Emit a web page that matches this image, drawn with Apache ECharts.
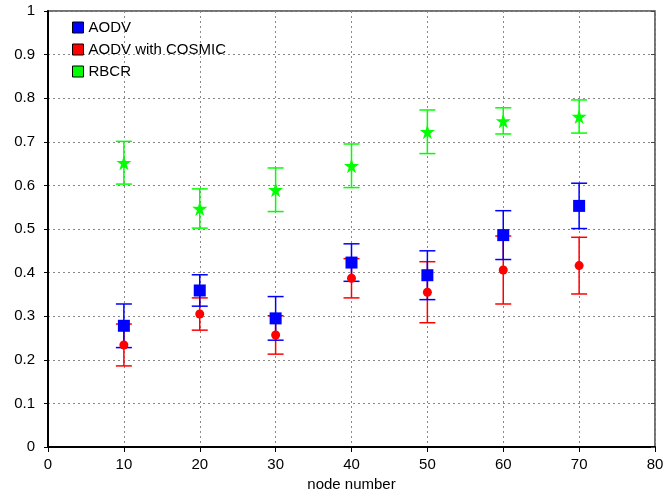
<!DOCTYPE html>
<html><head><meta charset="utf-8">
<script src="https://cdn.jsdelivr.net/npm/echarts@6/dist/echarts.min.js"></script>
<style>html,body{margin:0;padding:0;background:#fff}#c{width:669px;height:491px}</style>
</head><body><div id="c"></div>
<script>
var nodes = [10, 20, 30, 40, 50, 60, 70];
var aodvMean = [0.278, 0.359, 0.295, 0.423, 0.394, 0.486, 0.553];
var aodvErr  = [0.050, 0.036, 0.050, 0.043, 0.056, 0.056, 0.052];
var cosmicMean = [0.234, 0.305, 0.257, 0.387, 0.355, 0.406, 0.416];
var cosmicErr  = [0.048, 0.037, 0.044, 0.045, 0.070, 0.078, 0.065];
var rbcrMean = [0.652, 0.547, 0.590, 0.645, 0.723, 0.748, 0.758];
var rbcrErr  = [0.049, 0.045, 0.050, 0.050, 0.050, 0.030, 0.038];
var xTicks = [0, 10, 20, 30, 40, 50, 60, 70, 80];
var yTicks = [0, 0.1, 0.2, 0.3, 0.4, 0.5, 0.6, 0.7, 0.8, 0.9, 1];

var STAR = 'path://M50,0 L61,35 L98,35 L68,57 L79,91 L50,70 L21,91 L32,57 L2,35 L39,35 Z';

function pts(mean){ return nodes.map(function(x,i){ return [x, mean[i]]; }); }
function errs(mean, err){ return nodes.map(function(x,i){ return [x, mean[i]-err[i], mean[i]+err[i]]; }); }
function errSeries(name, mean, err, color){
  return {
    type: 'custom', name: name, z: 3,
    data: errs(mean, err),
    encode: {x: 0, y: [1, 2]},
    renderItem: function(params, api){
      var lo = api.coord([api.value(0), api.value(1)]);
      var hi = api.coord([api.value(0), api.value(2)]);
      var w = 8;
      var st = {stroke: color, lineWidth: 1.5};
      return {type: 'group', children: [
        {type: 'line', shape: {x1: lo[0], y1: lo[1], x2: hi[0], y2: hi[1]}, style: st},
        {type: 'line', shape: {x1: lo[0]-w, y1: lo[1], x2: lo[0]+w, y2: lo[1]}, style: st},
        {type: 'line', shape: {x1: hi[0]-w, y1: hi[1], x2: hi[0]+w, y2: hi[1]}, style: st}
      ]};
    }
  };
}
var font = 'Liberation Sans';
var fs = 15;
var chart = echarts.init(document.getElementById('c'));
chart.setOption({
  animation: false,
  grid: {left: 48, right: 14, top: 11, bottom: 44, show: true, borderColor: '#444', borderWidth: 1.5,
         containLabel: false, outerBoundsMode: 'none'},
  legend: {
    left: 72, top: 20, orient: 'vertical', itemGap: 7, itemWidth: 11, itemHeight: 11, padding: 0,
    textStyle: {fontFamily: font, fontSize: fs, color: '#000'},
    data: [
      {name: 'AODV', icon: 'rect', itemStyle: {color: '#0000ff', borderColor: '#000', borderWidth: 1}},
      {name: 'AODV with COSMIC', icon: 'rect', itemStyle: {color: '#ff0000', borderColor: '#000', borderWidth: 1}},
      {name: 'RBCR', icon: 'rect', itemStyle: {color: '#00ff00', borderColor: '#000', borderWidth: 1}}
    ]
  },
  xAxis: {
    type: 'value', min: 0, max: 80, interval: 10,
    name: 'node number', nameLocation: 'middle', nameGap: 29,
    nameTextStyle: {fontFamily: font, fontSize: fs, color: '#000'},
    axisLine: {lineStyle: {color: '#000', width: 2}},
    axisTick: {show: true, length: 5, lineStyle: {color: '#000'}},
    axisLabel: {fontFamily: font, fontSize: fs, color: '#000', margin: 10,
      formatter: function(v){ return xTicks.indexOf(v) >= 0 ? String(v) : ''; }},
    splitLine: {show: true, lineStyle: {color: '#888', type: [2, 3], width: 1}}
  },
  yAxis: [{
    type: 'value', min: 0, max: 1, interval: 0.1,
    axisLine: {show: true, lineStyle: {color: '#000', width: 2}},
    axisTick: {show: true, length: 4, lineStyle: {color: '#000'}},
    axisLabel: {fontFamily: font, fontSize: fs, color: '#000', margin: 13,
      formatter: function(v){ var r = Math.round(v*10)/10; return yTicks.indexOf(r) >= 0 ? String(r) : ''; }},
    splitLine: {show: true, lineStyle: {color: '#888', type: [2, 3], width: 1}}
  }, {
    type: 'value', min: 0, max: 1, interval: 0.1, position: 'right',
    axisLine: {show: false},
    axisTick: {show: true, inside: true, length: 4, lineStyle: {color: '#444'}},
    axisLabel: {show: false},
    splitLine: {show: false}
  }],
  series: [
    errSeries('RBCR err', rbcrMean, rbcrErr, '#00ff00'),
    {type: 'scatter', name: 'RBCR', z: 4, symbol: STAR, symbolSize: 15, data: pts(rbcrMean), itemStyle: {color: '#00ff00', opacity: 1}},
    errSeries('COSMIC err', cosmicMean, cosmicErr, '#ff0000'),
    {type: 'scatter', name: 'AODV with COSMIC', z: 5, symbol: 'circle', symbolSize: 9, data: pts(cosmicMean), itemStyle: {color: '#ff0000', opacity: 1}},
    errSeries('AODV err', aodvMean, aodvErr, '#0000ff'),
    {type: 'scatter', name: 'AODV', z: 6, symbol: 'rect', symbolSize: 12, data: pts(aodvMean), itemStyle: {color: '#0000ff', opacity: 1}}
  ]
});
</script></body></html>
